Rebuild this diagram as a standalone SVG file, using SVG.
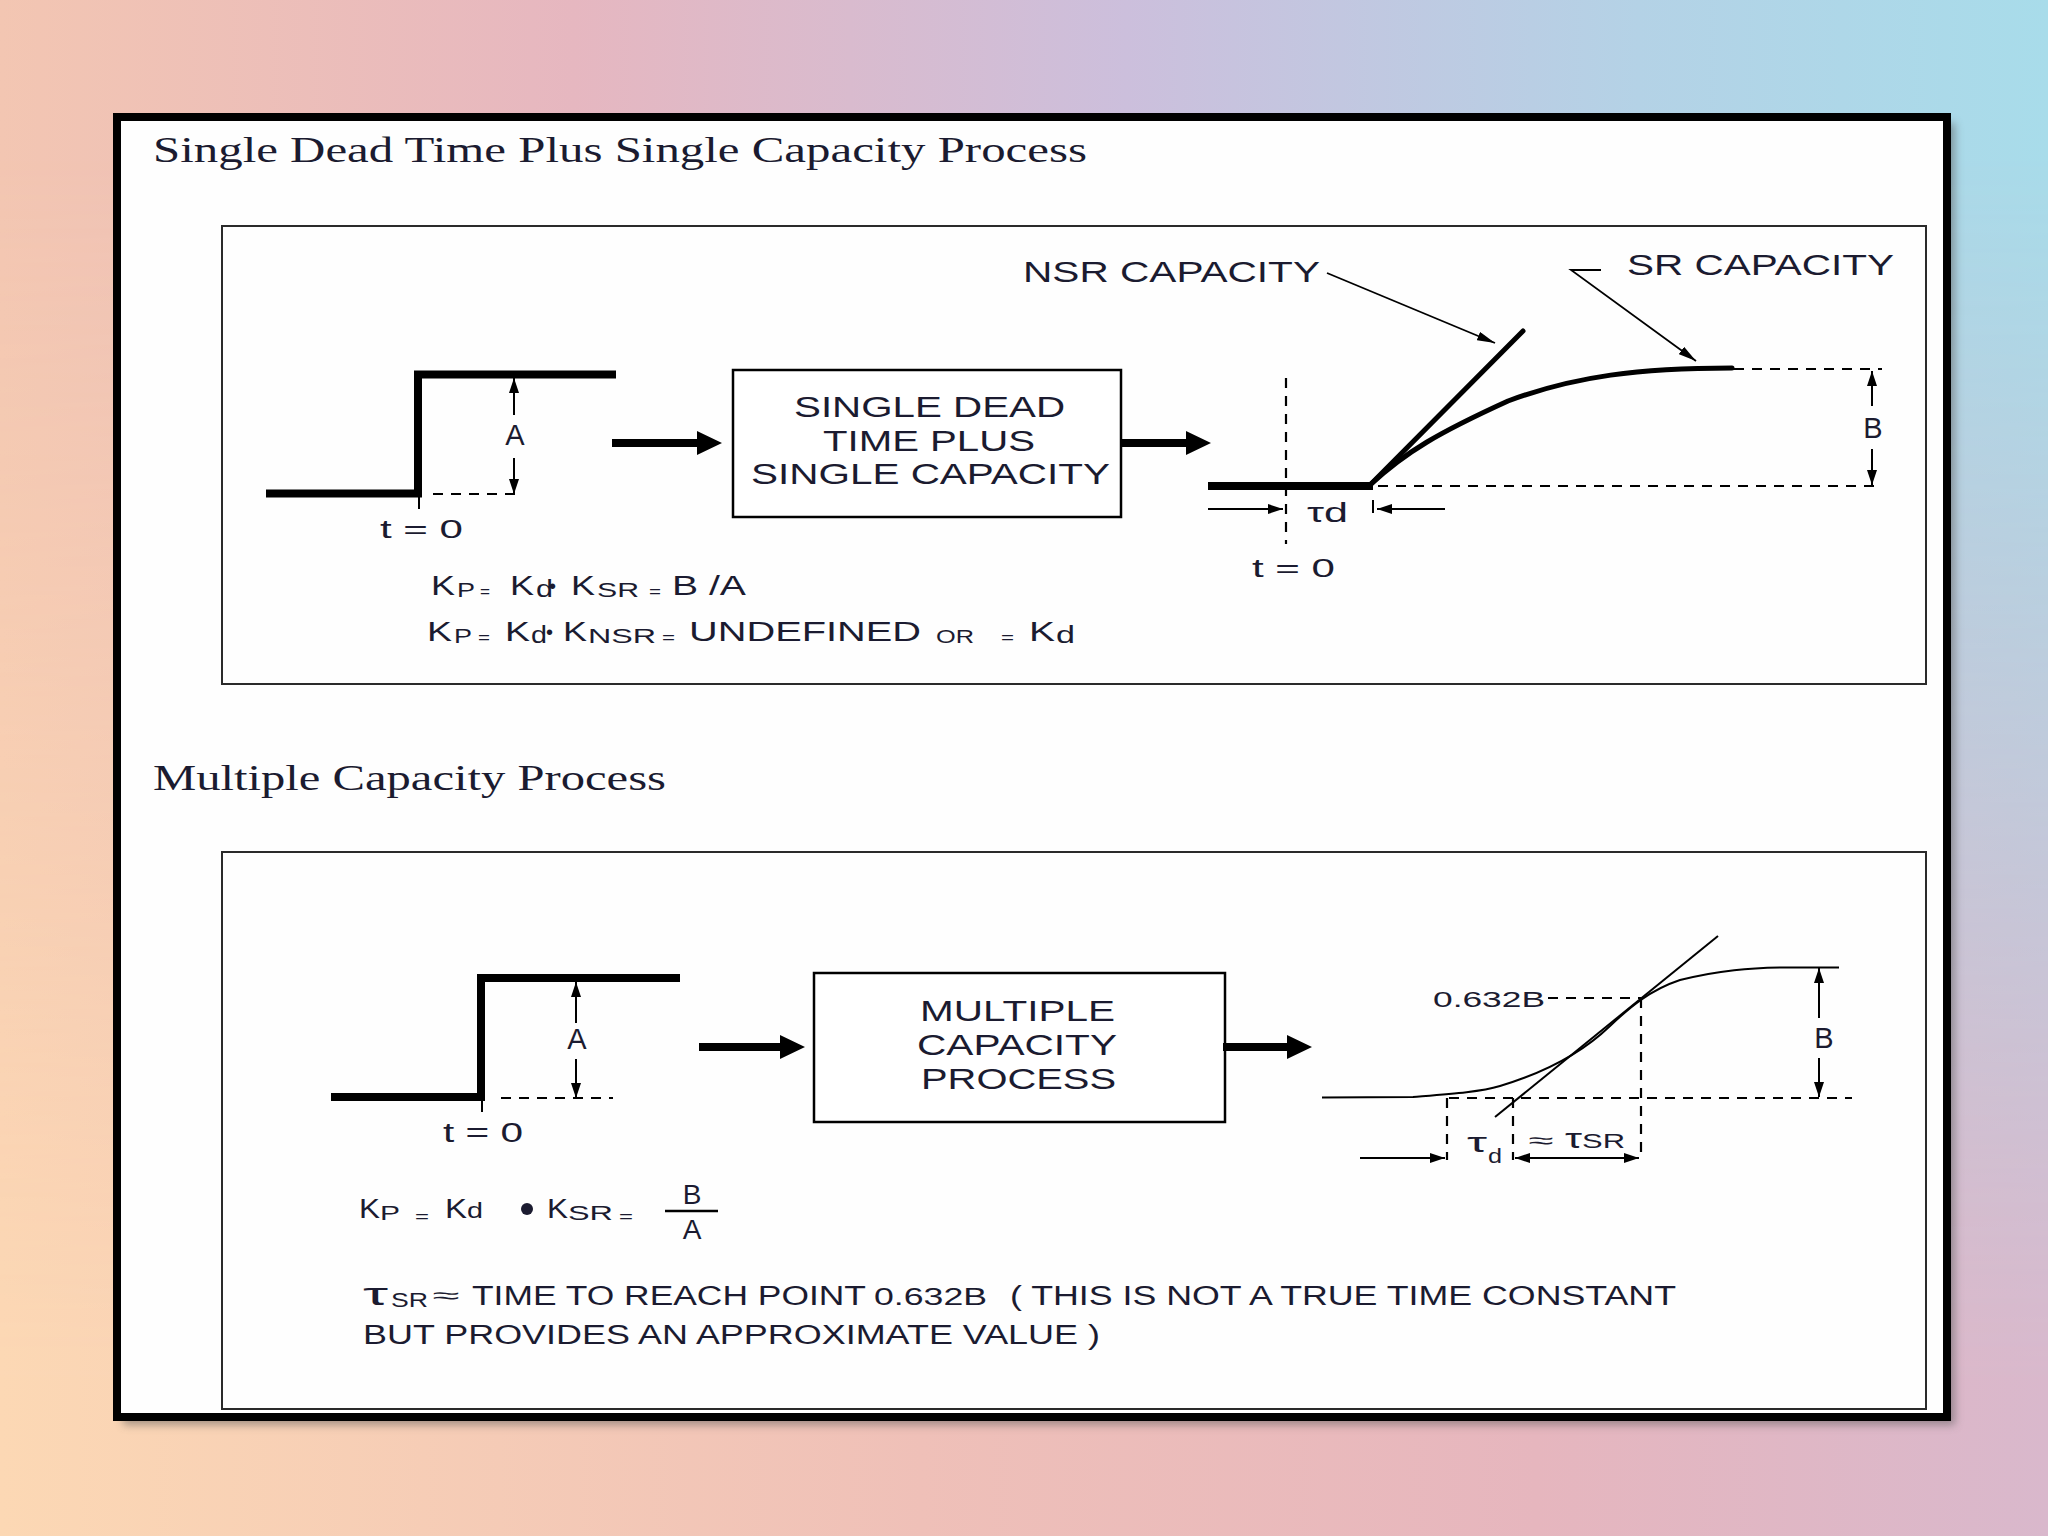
<svg xmlns="http://www.w3.org/2000/svg" width="2048" height="1536" viewBox="0 0 2048 1536">
<defs>
<linearGradient id="bgTop" x1="0" y1="0" x2="1" y2="0">
<stop offset="0" stop-color="#f3c6b2"/>
<stop offset="0.28" stop-color="#e6b7c0"/>
<stop offset="0.55" stop-color="#ccbfdc"/>
<stop offset="0.8" stop-color="#b4d2e6"/>
<stop offset="1" stop-color="#a8dcea"/>
</linearGradient>
<linearGradient id="bgBot" x1="0" y1="0" x2="1" y2="0">
<stop offset="0" stop-color="#fcd8b4"/>
<stop offset="0.45" stop-color="#efc0b8"/>
<stop offset="0.75" stop-color="#e6b6be"/>
<stop offset="1" stop-color="#d9b8cc"/>
</linearGradient>
<linearGradient id="fade" x1="0" y1="0" x2="0" y2="1">
<stop offset="0.1" stop-color="#fff" stop-opacity="0"/>
<stop offset="0.9" stop-color="#fff" stop-opacity="1"/>
</linearGradient>
<mask id="m"><rect width="2048" height="1536" fill="url(#fade)"/></mask>
<filter id="sh" x="-5%" y="-5%" width="110%" height="110%"><feGaussianBlur stdDeviation="4"/></filter>
<marker id="ah" viewBox="0 0 15 10" refX="15" refY="5" markerWidth="15" markerHeight="10" markerUnits="userSpaceOnUse" orient="auto-start-reverse"><path d="M0,0 L15,5 L0,10 z" fill="#000"/></marker>
<marker id="la" viewBox="0 0 18 9" refX="18" refY="4.5" markerWidth="18" markerHeight="9" markerUnits="userSpaceOnUse" orient="auto"><path d="M0,0 L18,4.5 L0,9 z" fill="#000"/></marker>
<style>
.t{font-family:"Liberation Sans",Arial,sans-serif;fill:#1b1b30}
.s{font-family:"Liberation Serif","Times New Roman",serif;fill:#1b1b30}
.thick{stroke:#000;stroke-width:8;fill:none}
.mid{stroke:#000;stroke-width:5;fill:none;stroke-linecap:round}
.thin{stroke:#000;stroke-width:2;fill:none}
.hair{stroke:#000;stroke-width:1.8;fill:none}
.dash{stroke:#000;stroke-width:2.2;fill:none;stroke-dasharray:10 8}
.box{stroke:#000;stroke-width:2.5;fill:#fff}
.frame{stroke:#2a2a2a;stroke-width:2;fill:#fefefe}
</style>
</defs>
<rect width="2048" height="1536" fill="url(#bgTop)"/>
<rect width="2048" height="1536" fill="url(#bgBot)" mask="url(#m)"/>
<rect x="123" y="123" width="1832" height="1302" fill="#555" opacity="0.5" filter="url(#sh)"/>
<rect x="117" y="117" width="1830" height="1300" fill="#fefefe" stroke="#000" stroke-width="8"/>

<!-- Titles -->
<text class="s" x="153" y="162" font-size="36" textLength="934" lengthAdjust="spacingAndGlyphs">Single Dead Time Plus Single Capacity Process</text>
<text class="s" x="153" y="790" font-size="36" textLength="513" lengthAdjust="spacingAndGlyphs">Multiple Capacity Process</text>

<!-- Section frames -->
<rect class="frame" x="222" y="226" width="1704" height="458"/>
<rect class="frame" x="222" y="852" width="1704" height="557"/>

<!-- ===== TOP SECTION ===== -->
<g id="step-input-1">
<path class="thick" d="M266,493.5 H418 V374.5 H616"/>
<line class="thin" x1="419" y1="497" x2="419" y2="509"/>
<line class="dash" x1="433" y1="494" x2="522" y2="494"/>
<line class="thin" x1="514" y1="415" x2="514" y2="378" marker-end="url(#ah)"/>
<line class="thin" x1="514" y1="458" x2="514" y2="494" marker-end="url(#ah)"/>
<text class="t" x="515" y="445" font-size="29" text-anchor="middle">A</text>
<text class="t" x="380" y="538" font-size="26" textLength="83" lengthAdjust="spacingAndGlyphs">t = 0</text>
</g>

<g id="node-single-dead-time">
<rect class="box" x="733" y="370" width="388" height="147"/>
<text class="t" x="794" y="417" font-size="29" textLength="271" lengthAdjust="spacingAndGlyphs">SINGLE DEAD</text>
<text class="t" x="823" y="451" font-size="29" textLength="212" lengthAdjust="spacingAndGlyphs">TIME PLUS</text>
<text class="t" x="751" y="484" font-size="29" textLength="359" lengthAdjust="spacingAndGlyphs">SINGLE CAPACITY</text>
</g>

<g id="output-1">
<line class="thick" x1="1208" y1="486" x2="1373" y2="486" stroke-width="7"/>
<line class="dash" x1="1286" y1="378" x2="1286" y2="544"/>
<line class="dash" x1="1378" y1="486" x2="1882" y2="486"/>
<line class="dash" x1="1734" y1="369" x2="1882" y2="369"/>
<path class="mid" d="M1370,485 L1523,331"/>
<path class="mid" d="M1370,485 C1405,452 1440,432 1508,401 C1575,376 1640,368 1732,368"/>
<line class="thin" x1="1872" y1="406" x2="1872" y2="371" marker-end="url(#ah)"/>
<line class="thin" x1="1872" y1="449" x2="1872" y2="485" marker-end="url(#ah)"/>
<text class="t" x="1873" y="438" font-size="29" text-anchor="middle">B</text>
<line class="thin" x1="1208" y1="509" x2="1283" y2="509" marker-end="url(#ah)"/>
<line class="thin" x1="1445" y1="509" x2="1377" y2="509" marker-end="url(#ah)"/>
<line class="thin" x1="1373" y1="500" x2="1373" y2="513"/>
<text class="t" x="1307" y="522" font-size="27" textLength="41" lengthAdjust="spacingAndGlyphs">τd</text>
<text class="t" x="1252" y="577" font-size="26" textLength="83" lengthAdjust="spacingAndGlyphs">t = 0</text>
</g>

<g id="label-nsr">
<text class="t" x="1023" y="282" font-size="29" textLength="297" lengthAdjust="spacingAndGlyphs">NSR CAPACITY</text>
<line class="hair" x1="1327" y1="273" x2="1495" y2="343" marker-end="url(#la)"/>
</g>
<g id="label-sr">
<text class="t" x="1627" y="275" font-size="29" textLength="267" lengthAdjust="spacingAndGlyphs">SR CAPACITY</text>
<polyline class="hair" points="1601,270 1571,270 1696,361" marker-end="url(#la)"/>
</g>

<g id="formula-top">
<text class="t" x="431" y="595" font-size="28" textLength="24" lengthAdjust="spacingAndGlyphs">K</text>
<text class="t" x="457" y="597" font-size="20" textLength="18" lengthAdjust="spacingAndGlyphs">P</text>
<text class="t" x="480" y="597" font-size="16" textLength="10" lengthAdjust="spacingAndGlyphs">=</text>
<text class="t" x="510" y="595" font-size="28" textLength="24" lengthAdjust="spacingAndGlyphs">K</text>
<text class="t" x="536" y="597" font-size="23" textLength="17" lengthAdjust="spacingAndGlyphs">d</text>
<text class="t" x="549" y="593" font-size="20">•</text>
<text class="t" x="571" y="595" font-size="28" textLength="24" lengthAdjust="spacingAndGlyphs">K</text>
<text class="t" x="597" y="597" font-size="20" textLength="42" lengthAdjust="spacingAndGlyphs">SR</text>
<text class="t" x="649" y="597" font-size="16" textLength="12" lengthAdjust="spacingAndGlyphs">=</text>
<text class="t" x="672" y="595" font-size="28" textLength="74" lengthAdjust="spacingAndGlyphs">B /A</text>

<text class="t" x="427" y="641" font-size="28" textLength="25" lengthAdjust="spacingAndGlyphs">K</text>
<text class="t" x="454" y="643" font-size="20" textLength="18" lengthAdjust="spacingAndGlyphs">P</text>
<text class="t" x="478" y="643" font-size="16" textLength="12" lengthAdjust="spacingAndGlyphs">=</text>
<text class="t" x="505" y="641" font-size="28" textLength="25" lengthAdjust="spacingAndGlyphs">K</text>
<text class="t" x="531" y="643" font-size="23" textLength="16" lengthAdjust="spacingAndGlyphs">d</text>
<text class="t" x="546" y="639" font-size="20">•</text>
<text class="t" x="563" y="641" font-size="28" textLength="24" lengthAdjust="spacingAndGlyphs">K</text>
<text class="t" x="588" y="643" font-size="20" textLength="68" lengthAdjust="spacingAndGlyphs">NSR</text>
<text class="t" x="662" y="643" font-size="16" textLength="13" lengthAdjust="spacingAndGlyphs">=</text>
<text class="t" x="689" y="641" font-size="28" textLength="232" lengthAdjust="spacingAndGlyphs">UNDEFINED</text>
<text class="t" x="936" y="643" font-size="18" textLength="38" lengthAdjust="spacingAndGlyphs">OR</text>
<text class="t" x="1001" y="643" font-size="16" textLength="13" lengthAdjust="spacingAndGlyphs">=</text>
<text class="t" x="1029" y="641" font-size="28" textLength="26" lengthAdjust="spacingAndGlyphs">K</text>
<text class="t" x="1056" y="643" font-size="23" textLength="19" lengthAdjust="spacingAndGlyphs">d</text>
</g>

<!-- ===== BOTTOM SECTION ===== -->
<g id="step-input-2">
<path class="thick" d="M331,1097 H481 V978 H680"/>
<line class="thin" x1="482" y1="1100" x2="482" y2="1112"/>
<line class="dash" x1="501" y1="1098" x2="613" y2="1098"/>
<line class="thin" x1="576" y1="1023" x2="576" y2="982" marker-end="url(#ah)"/>
<line class="thin" x1="576" y1="1059" x2="576" y2="1098" marker-end="url(#ah)"/>
<text class="t" x="577" y="1049" font-size="29" text-anchor="middle">A</text>
<text class="t" x="443" y="1142" font-size="27" textLength="80" lengthAdjust="spacingAndGlyphs">t = 0</text>
</g>

<g id="node-multiple-capacity">
<rect class="box" x="814" y="973" width="411" height="149"/>
<text class="t" x="920" y="1021" font-size="30" textLength="195" lengthAdjust="spacingAndGlyphs">MULTIPLE</text>
<text class="t" x="917" y="1055" font-size="30" textLength="200" lengthAdjust="spacingAndGlyphs">CAPACITY</text>
<text class="t" x="921" y="1089" font-size="30" textLength="195" lengthAdjust="spacingAndGlyphs">PROCESS</text>
</g>

<g id="output-2">
<path class="thin" d="M1322,1097.5 L1413,1097 C1450,1094 1480,1092 1500,1086 C1540,1074 1580,1055 1610,1026 C1630,1007 1650,990 1680,980 C1720,970 1750,968 1783,967.5 L1839,967.5" stroke-width="2.2"/>
<line class="thin" x1="1495" y1="1117" x2="1718" y2="936" stroke-width="2.2"/>
<line class="dash" x1="1449" y1="1098" x2="1852" y2="1098"/>
<line class="dash" x1="1548" y1="998" x2="1641" y2="998"/>
<line class="dash" x1="1641" y1="998" x2="1641" y2="1160"/>
<line class="dash" x1="1447" y1="1098" x2="1447" y2="1160"/>
<line class="dash" x1="1513" y1="1098" x2="1513" y2="1160"/>
<text class="t" x="1433" y="1007" font-size="22" textLength="112" lengthAdjust="spacingAndGlyphs">0.632B</text>
<line class="thin" x1="1819" y1="1018" x2="1819" y2="968" marker-end="url(#ah)"/>
<line class="thin" x1="1819" y1="1058" x2="1819" y2="1097" marker-end="url(#ah)"/>
<text class="t" x="1824" y="1048" font-size="29" text-anchor="middle">B</text>
<line class="thin" x1="1360" y1="1158" x2="1445" y2="1158" marker-end="url(#ah)"/>
<line class="thin" x1="1515" y1="1158" x2="1639" y2="1158" marker-start="url(#ah)" marker-end="url(#ah)"/>
<text class="t" x="1467" y="1152" font-size="27" textLength="20" lengthAdjust="spacingAndGlyphs">τ</text>
<text class="t" x="1488" y="1163" font-size="20" textLength="14" lengthAdjust="spacingAndGlyphs">d</text>
<text class="t" x="1528" y="1148" font-size="22" textLength="25" lengthAdjust="spacingAndGlyphs">≈</text>
<text class="t" x="1565" y="1148" font-size="27" textLength="17" lengthAdjust="spacingAndGlyphs">τ</text>
<text class="t" x="1582" y="1148" font-size="20" textLength="43" lengthAdjust="spacingAndGlyphs">SR</text>
</g>

<g id="formula-bottom">
<text class="t" x="359" y="1218" font-size="28" textLength="21" lengthAdjust="spacingAndGlyphs">K</text>
<text class="t" x="380" y="1220" font-size="20" textLength="20" lengthAdjust="spacingAndGlyphs">P</text>
<text class="t" x="415" y="1222" font-size="15" textLength="14" lengthAdjust="spacingAndGlyphs">=</text>
<text class="t" x="445" y="1218" font-size="28" textLength="22" lengthAdjust="spacingAndGlyphs">K</text>
<text class="t" x="467" y="1218" font-size="22" textLength="16" lengthAdjust="spacingAndGlyphs">d</text>
<circle cx="527" cy="1209" r="6" fill="#1b1b30"/>
<text class="t" x="547" y="1218" font-size="28" textLength="21" lengthAdjust="spacingAndGlyphs">K</text>
<text class="t" x="568" y="1220" font-size="21" textLength="45" lengthAdjust="spacingAndGlyphs">SR</text>
<text class="t" x="619" y="1222" font-size="15" textLength="14" lengthAdjust="spacingAndGlyphs">=</text>
<line x1="665" y1="1211" x2="718" y2="1211" stroke="#000" stroke-width="2.5"/>
<text class="t" x="692" y="1204" font-size="28" text-anchor="middle">B</text>
<text class="t" x="692" y="1239" font-size="28" text-anchor="middle">A</text>
</g>

<g id="note">
<text class="t" x="363" y="1305" font-size="32" textLength="25" lengthAdjust="spacingAndGlyphs">τ</text>
<text class="t" x="391" y="1307" font-size="20" textLength="37" lengthAdjust="spacingAndGlyphs">SR</text>
<text class="t" x="432" y="1303" font-size="22" textLength="27" lengthAdjust="spacingAndGlyphs">≈</text>
<text class="t" x="472" y="1305" font-size="27" textLength="394" lengthAdjust="spacingAndGlyphs">TIME TO REACH POINT</text>
<text class="t" x="874" y="1305" font-size="24" textLength="113" lengthAdjust="spacingAndGlyphs">0.632B</text>
<text class="t" x="1010" y="1305" font-size="27" textLength="666" lengthAdjust="spacingAndGlyphs">( THIS IS NOT A TRUE TIME CONSTANT</text>
<text class="t" x="363" y="1344" font-size="27" textLength="737" lengthAdjust="spacingAndGlyphs">BUT PROVIDES AN APPROXIMATE VALUE )</text>
</g>

<g id="connectors">
<path d="M612,439 H697 V431 L722,443 L697,455 V447 H612 Z" fill="#000"/>
<path d="M1121,439 H1186 V431 L1211,443 L1186,455 V447 H1121 Z" fill="#000"/>
<path d="M699,1043 H780 V1035 L805,1047 L780,1059 V1051 H699 Z" fill="#000"/>
<path d="M1223,1043 H1287 V1035 L1312,1047 L1287,1059 V1051 H1223 Z" fill="#000"/>
</g>
</svg>
